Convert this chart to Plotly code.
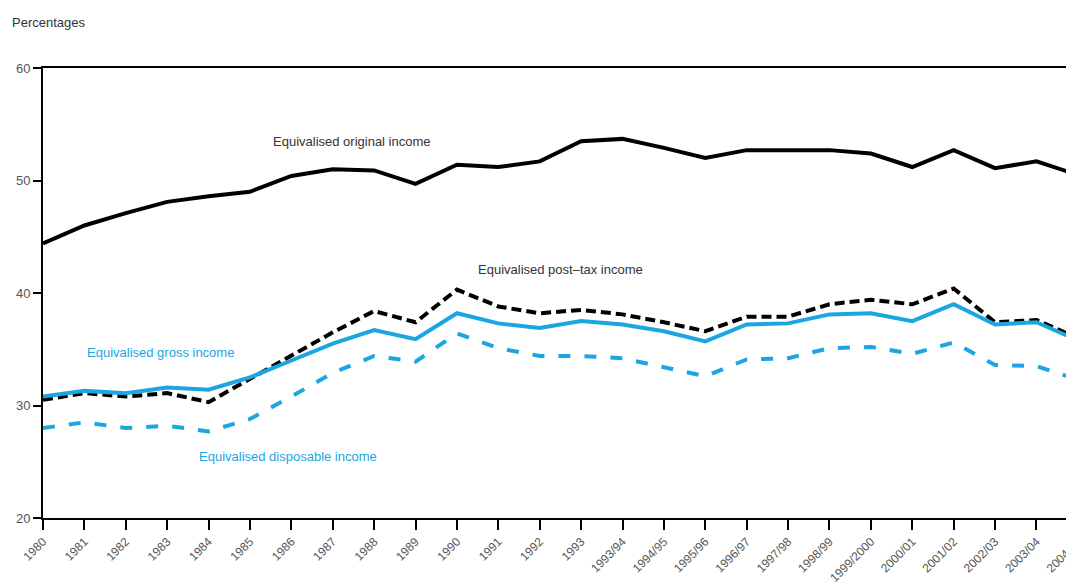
import plotly.graph_objects as go

FONT = "Liberation Sans Narrow, Arial Narrow, sans-serif"
BLUE = "#1ba6e2"

years = ["1980", "1981", "1982", "1983", "1984", "1985", "1986", "1987", "1988",
         "1989", "1990", "1991", "1992", "1993", "1993/94", "1994/95", "1995/96",
         "1996/97", "1997/98", "1998/99", "1999/2000", "2000/01", "2001/02",
         "2002/03", "2003/04", "2004/05"]

original = [44.4, 46.0, 47.1, 48.1, 48.6, 49.0, 50.4, 51.0, 50.9, 49.7, 51.4, 51.2,
            51.7, 53.5, 53.7, 52.9, 52.0, 52.7, 52.7, 52.7, 52.4, 51.2, 52.7, 51.1,
            51.7, 50.5]
post_tax = [30.5, 31.1, 30.8, 31.1, 30.3, 32.4, 34.4, 36.5, 38.4, 37.4, 40.3, 38.8,
            38.2, 38.5, 38.1, 37.4, 36.6, 37.9, 37.9, 39.0, 39.4, 39.0, 40.4, 37.4,
            37.6, 36.0]
gross = [30.8, 31.3, 31.1, 31.6, 31.4, 32.5, 34.0, 35.5, 36.7, 35.9, 38.2, 37.3,
         36.9, 37.5, 37.2, 36.6, 35.7, 37.2, 37.3, 38.1, 38.2, 37.5, 39.0, 37.2,
         37.4, 35.8]
disposable = [28.0, 28.5, 28.0, 28.2, 27.7, 28.8, 30.8, 32.9, 34.4, 33.9, 36.4, 35.1,
              34.4, 34.4, 34.2, 33.4, 32.6, 34.1, 34.2, 35.1, 35.2, 34.6, 35.6, 33.6,
              33.5, 32.3]

fig = go.Figure()
fig.add_trace(go.Scatter(x=years, y=original, mode="lines",
                         line=dict(color="black", width=4)))
fig.add_trace(go.Scatter(x=years, y=post_tax, mode="lines",
                         line=dict(color="black", width=4, dash="10px,5px")))
fig.add_trace(go.Scatter(x=years, y=gross, mode="lines",
                         line=dict(color=BLUE, width=4)))
fig.add_trace(go.Scatter(x=years, y=disposable, mode="lines",
                         line=dict(color=BLUE, width=4, dash="12px,14px")))

labels = [
    ("Equivalised original income", 7.46, 53.5, "#333333"),
    ("Equivalised post\u2013tax income", 12.49, 42.1, "#333333"),
    ("Equivalised gross income", 2.83, 34.7, BLUE),
    ("Equivalised disposable income", 5.92, 25.5, BLUE),
]
for txt, xi, yi, col in labels:
    fig.add_annotation(x=xi, y=yi, text=txt, showarrow=False,
                       font=dict(family=FONT, size=13, color=col))

fig.add_annotation(x=0, y=1, xref="paper", yref="paper", xshift=-33, yshift=55,
                   xanchor="left", yanchor="top", text="Percentages", showarrow=False,
                   font=dict(family=FONT, size=13, color="#333333"))

fig.update_xaxes(type="category", range=[0, 25.1], showgrid=False, automargin=False,
                 showline=True, linecolor="black", linewidth=2, mirror=True,
                 ticks="outside", ticklen=10, tickwidth=2, tickcolor="black",
                 tickangle=-45, tickfont=dict(family=FONT, size=12, color="#555555"))
fig.update_yaxes(range=[20, 60], dtick=10, showgrid=False, zeroline=False,
                 automargin=False,
                 showline=True, linecolor="black", linewidth=2,
                 ticks="outside", ticklen=8, tickwidth=2, tickcolor="black",
                 tickfont=dict(family=FONT, size=13, color="#555555"))

# page body adds ~8px offset, so margins are compensated
fig.update_layout(width=1074, height=587, showlegend=False,
                  plot_bgcolor="white", paper_bgcolor="white",
                  margin=dict(l=35, r=0, t=60, b=77))
fig.write_html("out.html")
